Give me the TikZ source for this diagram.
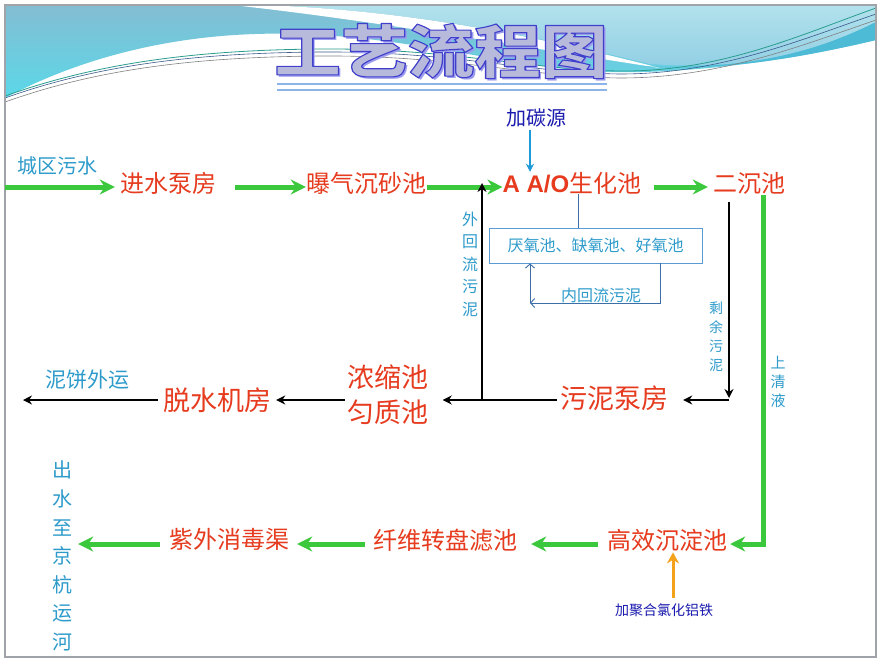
\documentclass[tikz,border=0pt]{standalone}
\usepackage{fontspec}
\setmainfont{Noto Sans CJK SC}
\newfontfamily\latinb{Liberation Sans}
\usetikzlibrary{arrows.meta,calc}
\definecolor{procred}{HTML}{E63B1E}
\definecolor{lblblue}{HTML}{2E9BCB}
\definecolor{navy}{HTML}{1A1AAE}
\definecolor{flowgreen}{HTML}{3CC83C}
\definecolor{pacorange}{HTML}{F5A21B}
\definecolor{carbonblue}{HTML}{1E9AD8}
\definecolor{boxblue}{HTML}{5B9BD5}
\definecolor{thinblue}{HTML}{3C6EA8}
\definecolor{hdrA}{HTML}{84BDD3}
\definecolor{hdrAb}{HTML}{5AD8E8}
\definecolor{hdrB}{HTML}{B2E2EC}
\definecolor{hdrBb}{HTML}{8FCDE4}
\definecolor{hdrC}{HTML}{4DBAD6}
\definecolor{lineteal}{HTML}{2A9D8F}
\definecolor{linenavy}{HTML}{3A5A8A}
\definecolor{framegray}{HTML}{A0A4A8}
\definecolor{titlefill}{HTML}{B8BADC}
\definecolor{titleshadow}{HTML}{9C9CEE}
\definecolor{ulblue}{HTML}{8CB4E8}
\newcommand{\outlinedtext}[1]{\special{pdf:literal direct 0.25 0.25 0.8 RG 1.1 w 1 j 2 Tr}#1\special{pdf:literal direct 0 Tr}}
\tikzset{
  proc/.style={font=\fontsize{24}{28}\selectfont, text=procred, inner sep=0pt},
  bigproc/.style={font=\fontsize{27}{35}\selectfont, text=procred, inner sep=0pt, align=center},
  lbl/.style={text=lblblue, inner sep=0pt},
  garrow/.style={draw=flowgreen, line width=5pt, -{Stealth[length=15pt,width=15pt,inset=5pt]}},
  karrow/.style={draw=black, line width=2pt, -{Stealth[length=9pt,width=9pt]}},
  thinarrow/.style={draw=thinblue, line width=0.9pt, -{Straight Barb[length=4pt,width=9pt]}},
  titlest/.style={font=\fontsize{58}{60}\bfseries\selectfont, xscale=1.15, inner sep=0pt},
}
\begin{document}
\begin{tikzpicture}[x=1pt,y=-1pt]
\useasboundingbox (0,0) rectangle (882,662);
\fill[white] (0,0) rectangle (882,662);
% header background
\shade[top color=hdrA, bottom color=hdrAb] (5,5) -- (876,5) -- (876,40) .. controls (800,58) and (700,74) .. (610,72) .. controls (520,70) and (420,38) .. (300,34) .. controls (180,30) and (80,58) .. (5,98) -- cycle;
\shade[top color=hdrB, bottom color=hdrBb] (262,5) .. controls (400,10) and (520,32) .. (650,64) .. controls (760,72) and (830,45) .. (876,22) -- (876,5) -- cycle;
\fill[white] (232,5) .. controls (370,20) and (510,45) .. (660,68) .. controls (520,32) and (400,10) .. (262,5) -- cycle;
\fill[hdrC] (640,66) .. controls (760,72) and (830,45) .. (876,22) -- (876,40) .. controls (800,58) and (720,72) .. (640,66) -- cycle;
\draw[lineteal, line width=0.8pt] (5,96) .. controls (100,62) and (200,50) .. (320,49) .. controls (450,48) and (530,70) .. (620,71) .. controls (720,72) and (800,35) .. (876,8);
\draw[linenavy, line width=0.6pt] (5,98) .. controls (100,64) and (200,53) .. (320,52) .. controls (450,51) and (530,73) .. (620,74) .. controls (720,74) and (800,40) .. (876,14);
\draw[gray, line width=0.6pt] (5,102) .. controls (100,68) and (200,57) .. (320,56) .. controls (450,55) and (530,77) .. (620,78) .. controls (720,78) and (800,46) .. (876,20);
% title
\node[titlest, text=titleshadow] (tshadow) at (443.5,53.5) {工艺流程图};
\node[titlest, text=titlefill] (title) at (441,51) {\outlinedtext{工艺流程图}};
\draw[ulblue, line width=1.5pt] (277,84) -- (607,84);
\draw[ulblue, line width=1.5pt] (277,90) -- (607,90);
% frame
\draw[framegray, line width=1.6pt] (5,5) rectangle (876,657);

% nodes
\node[lbl, font=\fontsize{20}{24}\selectfont] (src) at (57,166) {城区污水};
\node[proc] (pump) at (168,183) {进水泵房};
\node[proc] (grit) at (366,183) {曝气沉砂池};
\node[proc] (ao) at (572,183) {{\latinb\bfseries A A/O}生化池};
\node[proc] (sec) at (749,183) {二沉池};
\node[text=navy, inner sep=0pt, font=\fontsize{20}{24}\selectfont] (carbon) at (536,118) {加碳源};
\node[draw=boxblue, line width=0.9pt, minimum width=213pt, minimum height=35pt, inner sep=0pt, text=lblblue, font=\fontsize{16}{20}\selectfont] (box) at (595.5,245.5) {厌氧池、缺氧池、好氧池};
\node[text=lblblue, inner sep=0pt, font=\fontsize{16}{20}\selectfont] (inner) at (601,295) {内回流污泥};
\node[lbl, align=center, font=\fontsize{16}{22.5}\selectfont] (ext) at (470,264) {外\\回\\流\\污\\泥};
\node[lbl, align=center, font=\fontsize{14}{19}\selectfont] (excess) at (716,337) {剩\\余\\污\\泥};
\node[lbl, align=center, font=\fontsize{15}{19}\selectfont] (super) at (778,382) {上\\清\\液};
\node[bigproc] (sludgepump) at (614,398) {污泥泵房};
\node[bigproc] (thick) at (388,395) {浓缩池\\匀质池};
\node[bigproc] (dewater) at (217,400) {脱水机房};
\node[lbl, font=\fontsize{21}{24}\selectfont] (cake) at (87,380) {泥饼外运};
\node[proc] (hes) at (667,540) {高效沉淀池};
\node[proc] (fiber) at (445,540) {纤维转盘滤池};
\node[proc] (uv) at (229,539) {紫外消毒渠};
\node[lbl, align=center, font=\fontsize{20}{28.6}\selectfont] (outlet) at (62,556) {出\\水\\至\\京\\杭\\运\\河};
\node[text=navy, inner sep=0pt, font=\fontsize{14}{16}\selectfont] (pac) at (664,610) {加聚合氯化铝铁};

% coordinates
\coordinate (inL) at (5,187);
\coordinate (gv) at (763,195);
\coordinate (kv) at (729,202);
\coordinate (kc) at (729,400);
\coordinate (ret) at (482,400);
\coordinate (cakeEnd) at (23,400);
\coordinate (ir) at (530,303);
\coordinate (gb) at (0,544);

% green flow
\draw[garrow, shorten >=5pt] (inL) -- (inL -| pump.west);
\draw[garrow, shorten <=19pt] ([yshift=-4pt]pump.east) -- ([yshift=-4pt]grit.west);
\draw[garrow, shorten <=1pt] ([yshift=-4pt]grit.east) -- ([yshift=-4pt]ao.west);
\draw[garrow, shorten <=12pt, shorten >=5pt] ([yshift=-4pt]ao.east) -- ([yshift=-4pt]sec.west);
\draw[garrow] (gv) |- ([xshift=3pt]hes.east |- gb);
\draw[garrow, shorten <=9pt, shorten >=14pt] (hes.west |- gb) -- (fiber.east |- gb);
\draw[garrow, shorten <=8pt, shorten >=8pt] (fiber.west |- gb) -- (uv.east |- gb);
\draw[garrow, shorten <=9pt, shorten >=6pt] (uv.west |- gb) -- (outlet.east |- gb);

% black sludge lines
\draw[karrow, shorten >=2pt] (kv) -- (kc);
\draw[karrow] (kc) -- ([xshift=15pt]sludgepump.east |- kc);
\draw[karrow] ([xshift=-3pt]sludgepump.west |- kc) -- ([xshift=14pt]thick.east |- kc);
\draw[karrow] (ret) -- (ret |- ao.west);
\draw[karrow] ([xshift=-2pt]thick.west |- kc) -- ([xshift=5pt]dewater.east |- kc);
\draw[karrow] ([xshift=-5pt]dewater.west |- kc) -- (cakeEnd);

% dosing
\draw[carbonblue, line width=2pt, -{Stealth[length=8pt,width=8pt]}] ([xshift=-6pt,yshift=-3pt]carbon.south) -- ([xshift=-6pt]carbon.south |- ao.north);
\draw[pacorange, line width=3pt, -{Stealth[length=11pt,width=12pt]}] ([xshift=9pt,yshift=5pt]pac.north) -- ([xshift=9pt,yshift=-1pt]pac.north |- hes.south);

% AAO internals
\draw[thinblue, line width=0.9pt] (ao.south -| 578,0) -- (box.north -| 578,0);
\draw[thinarrow] (box.south -| 660,0) |- (ir);
\draw[thinarrow] (ir) -- (ir |- box.south);
\end{tikzpicture}
\end{document}
